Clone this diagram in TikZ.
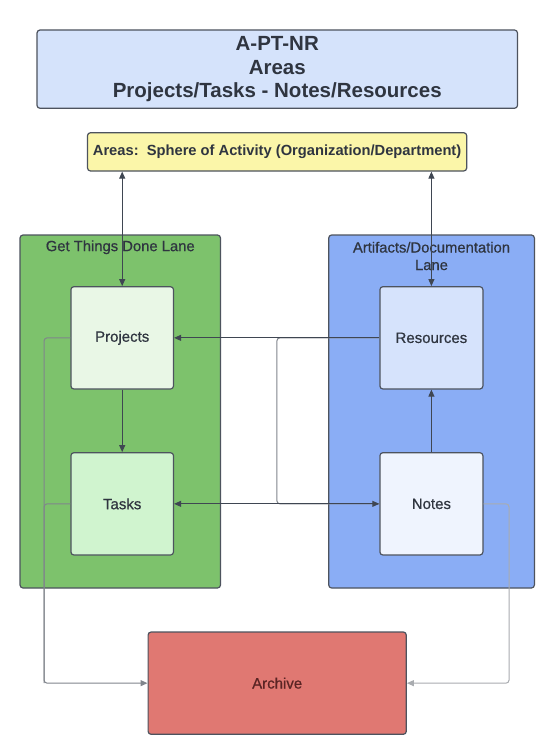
\documentclass[tikz,border=0pt]{standalone}
\usepackage{fontspec}
\setmainfont{Liberation Sans}
\newfontfamily\medfont[FakeBold=0.6]{Liberation Sans}
\usetikzlibrary{arrows.meta}
\definecolor{bordc}{HTML}{4D535E}
\definecolor{linec}{HTML}{3F4652}
\definecolor{midgrey}{HTML}{80858C}
\definecolor{lightgrey}{HTML}{A9ACB0}
\definecolor{txtc}{HTML}{2F3540}
\definecolor{titlefill}{HTML}{D5E3FB}
\definecolor{yellowfill}{HTML}{FBF6A9}
\definecolor{greenlane}{HTML}{7DC26C}
\definecolor{bluelane}{HTML}{8AADF5}
\definecolor{projfill}{HTML}{E9F7E6}
\definecolor{taskfill}{HTML}{D0F4CF}
\definecolor{resfill}{HTML}{D6E3FC}
\definecolor{notefill}{HTML}{EFF4FE}
\definecolor{archfill}{HTML}{E07872}
\definecolor{archtxt}{HTML}{5A2424}
\begin{document}
\begin{tikzpicture}[x=1pt,y=-1pt,
  box/.style={draw=bordc,line width=1.2pt,rounded corners=3pt,inner sep=0pt,
    text=txtc,font=\medfont\fontsize{15}{18}\selectfont},
  lanebox/.style={draw=bordc,line width=1.2pt,rounded corners=3pt,inner sep=0pt},
  lanetitle/.style={text=txtc,font=\medfont\fontsize{14.8}{17.5}\selectfont,align=center,inner sep=0pt},
  conn/.style={draw=linec,line width=1pt,rounded corners=3pt},
  tip/.style={-{Triangle[length=7pt,width=6pt]}},
  tips/.style={{Triangle[length=7pt,width=6pt]}-{Triangle[length=7pt,width=6pt]}}
]
\useasboundingbox (0,0) rectangle (551,752);
\fill[white] (0,0) rectangle (551,752);

% title
\node[box,fill=titlefill,minimum width=480.5pt,minimum height=78.3pt,align=center,
  font=\bfseries\fontsize{20.5}{23.5}\selectfont] (title) at (277.25,69.15)
  {A-PT-NR\\Areas\\Projects/Tasks - Notes/Resources};

% areas
\node[box,fill=yellowfill,minimum width=379.2pt,minimum height=38.3pt,
  font=\bfseries\fontsize{14.7}{17}\selectfont] (areas) at (277.1,151.85)
  {Areas:\ \ Sphere of Activity (Organization/Department)};

% lanes
\node[lanebox,fill=greenlane,minimum width=200.5pt,minimum height=353pt] (glane) at (120.25,411.5) {};
\node[lanebox,fill=bluelane,minimum width=205.7pt,minimum height=353pt] (blane) at (431.55,411.5) {};
\node[lanetitle] (gtitle) at (120.25,247.3) {Get Things Done Lane};
\node[lanetitle] (btitle) at (431.5,256) {Artifacts/Documentation\\Lane};

% boxes
\node[box,fill=projfill,minimum width=102.6pt,minimum height=102.3pt] (proj) at (122.2,337.85) {Projects};
\node[box,fill=taskfill,minimum width=102.6pt,minimum height=102.3pt] (task) at (122.2,503.85) {Tasks};
\node[box,fill=resfill,minimum width=103pt,minimum height=102.3pt] (res) at (431.4,337.85) {Resources};
\node[box,fill=notefill,minimum width=103pt,minimum height=102.3pt] (note) at (431.4,503.85) {Notes};
\node[box,fill=archfill,text=archtxt,minimum width=258.2pt,minimum height=102.3pt] (arch) at (277.2,683.15) {Archive};

% connectors
\draw[conn,tips] (areas.south -| proj.north) -- (proj.north);
\draw[conn,tips] (areas.south -| res.north) -- (res.north);
\draw[conn,tip] (proj.south) -- (task.north);
\draw[conn,tip] (note.north) -- (res.south);

\coordinate (m1) at (276.9,337.85);
\coordinate (m2) at (276.9,503.85);
\draw[conn,draw=midgrey] (res.west) -- (m1) -- (m2) -- (note.west);
\draw[conn,tip] (res.west) -- (proj.east);
\draw[conn,tips] (task.east) -- (note.west);

\coordinate (l1) at (44.1,337.85);
\coordinate (l2) at (44.1,503.85);
\coordinate (l3) at (44.1,683.15);
\draw[conn,draw=midgrey] (task.west) -- (l2) -- (l3);
\draw[conn,draw=midgrey,tip] (proj.west) -- (l1) -- (l3) -- (arch.west);

\coordinate (r1) at (509,503.85);
\coordinate (r2) at (509,683.15);
\draw[conn,draw=lightgrey,tip] (note.east) -- (r1) -- (r2) -- (arch.east);
\end{tikzpicture}
\end{document}
